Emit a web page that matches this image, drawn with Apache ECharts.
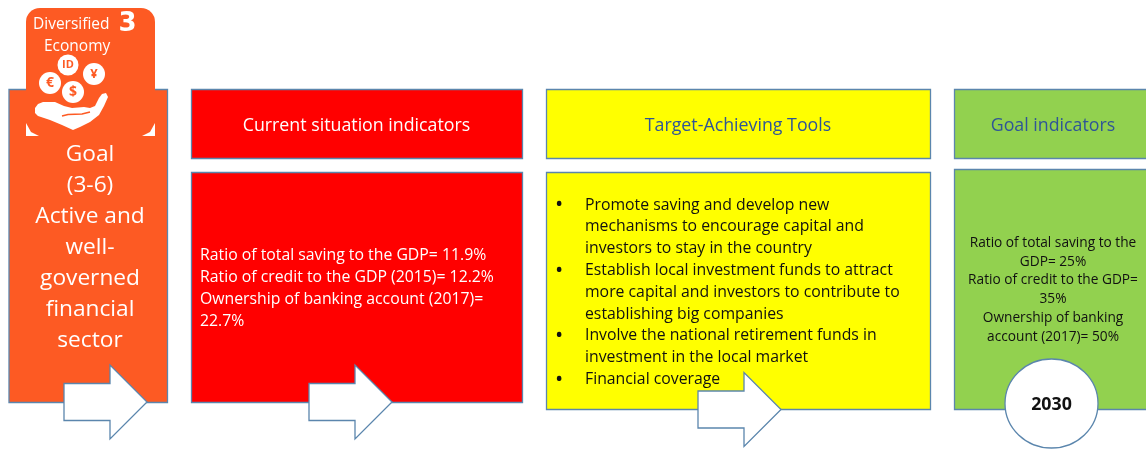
<!DOCTYPE html>
<html><head><meta charset="utf-8">
<style>html,body{margin:0;padding:0;background:#fff}#c{width:1146px;height:449px}</style>
<script src="https://cdn.jsdelivr.net/npm/echarts@6/dist/echarts.min.js"></script>
</head><body><div id="c"></div>
<script>
const badgeTitle = ['Diversified', 'Economy'];
const goalNumber = '3';
const goalLines = ['Goal', '(3-6)', 'Active and', 'well-', 'governed', 'financial', 'sector'];
const headers = ['Current situation indicators', 'Target-Achieving Tools', 'Goal indicators'];
const currentLines = ['Ratio of total saving to the GDP= 11.9%', 'Ratio of credit to the GDP (2015)= 12.2%', 'Ownership of banking account (2017)=', '22.7%'];
const toolLines = ['Promote saving and develop new', 'mechanisms to encourage capital and', 'investors to stay in the country', 'Establish local investment funds to attract', 'more capital and investors to contribute to', 'establishing big companies', 'Involve the national retirement funds in', 'investment in the local market', 'Financial coverage'];
const toolBullets = [0, 3, 6, 8];
const targetLines = ['Ratio of total saving to the', 'GDP= 25%', 'Ratio of credit to the GDP=', '35%', 'Ownership of banking', 'account (2017)= 50%'];
const yearLabel = '2030';

const FONT = '"Open Sans", "Noto Sans", sans-serif';
const EDGE = '#5b86ad';
const ORANGE = '#fd5a23', RED = '#ff0000', YELLOW = '#ffff00', GREEN = '#92d14f';

const box = (x, y, w, h, fill, z) => ({type:'rect', z:z||1, shape:{x:x+.5,y:y+.5,width:w,height:h}, style:{fill, stroke:EDGE, lineWidth:1.3}});
const txt = (x, y, text, size, fill, align, extra) => ({type:'text', z:5, x, y:y+1, style:Object.assign({text, fill, font:size+'px '+FONT, textAlign:align||'left', textVerticalAlign:'middle'}, extra||{})});
const arrow = (x, yMid) => ({type:'polygon', z:4, shape:{points:[[x,yMid-18.5],[x+46,yMid-18.5],[x+46,yMid-37],[x+83,yMid],[x+46,yMid+37],[x+46,yMid+18.5],[x,yMid+18.5]]}, style:{fill:'#fff', stroke:EDGE, lineWidth:1.3}});

const els = [];
// left column
els.push(box(8.5, 89, 158.5, 313, ORANGE));
// white corner ticks + badge
els.push({type:'rect', z:2, shape:{x:26,y:8,width:129,height:128,r:14}, style:{fill:ORANGE}});
els.push({type:'polygon', z:3, shape:{points:[[26,123],[26,136],[39,136],[31,132]]}, style:{fill:'#fff'}});
els.push({type:'polygon', z:3, shape:{points:[[155,123],[155,136],[142,136],[150,132]]}, style:{fill:'#fff'}});
els.push(txt(33, 24, badgeTitle[0], 15.5, '#fff'));
els.push(txt(44, 46, badgeTitle[1], 15.5, '#fff'));
els.push(txt(127.5, 23, goalNumber, 26, '#fff', 'center', {font:'900 26px "DejaVu Sans", sans-serif'}));
// coins
[[68,65,10.5,'ID',11],[94,74,11,'¥',13],[50,83,11,'€',14],[73,92,11,'$',14]].forEach(c=>{
  els.push({type:'circle', z:3, shape:{cx:c[0],cy:c[1],r:c[2]}, style:{fill:'#fff'}});
  els.push(txt(c[0], c[1]-1, c[3], c[4], ORANGE, 'center', {font:'bold '+c[4]+'px '+FONT}));
});
els.push({type:'polygon', z:3, shape:{points:[[35,108],[38,104],[43,102],[55,102],[64,106],[72,108],[84,107],[90,108],[95,106],[99,98],[102,94],[106,93],[108,97],[104,106],[99,115],[90,122],[80,127],[73,130],[62,125],[50,120],[38,116],[35,113]]}, style:{fill:'#fff'}});
els.push({type:'polyline', z:3, shape:{points:[[62,116],[68,114.5],[82,114],[90,112]]}, style:{fill:'none', stroke:ORANGE, lineWidth:1.5}});
goalLines.forEach((t,i)=>els.push(txt(90, 154+i*31, t, 22.7, '#fff', 'center')));
els.push(arrow(64, 402));

// current
els.push(box(191, 89, 331, 69, RED));
els.push(txt(356.5, 124.5, headers[0], 17.8, '#fff', 'center'));
els.push(box(191, 172, 331, 230, RED));
currentLines.forEach((t,i)=>els.push(txt(200, 254+i*22, t, 15.8, '#fff')));
els.push(arrow(309, 402));

// tools
els.push(box(546, 89, 384, 69, YELLOW));
els.push(txt(738, 124.5, headers[1], 17.8, '#2f5597', 'center'));
els.push(box(546, 172, 384, 237, YELLOW));
toolLines.forEach((t,i)=>{
  const y = 204+i*21.8;
  els.push(txt(585, y, t, 15.8, '#111'));
  if (toolBullets.includes(i)) els.push(txt(555, y, '•', 22, '#111'));
});
els.push(arrow(698, 409.5));

// goal
els.push(box(954, 89, 200, 69, GREEN));
els.push(txt(1053, 124.5, headers[2], 17.8, '#2f5597', 'center'));
els.push(box(954, 169, 200, 240, GREEN));
targetLines.forEach((t,i)=>els.push(txt(1053, 242+i*18.8, t, 13.7, '#111', 'center')));
els.push({type:'ellipse', z:4, shape:{cx:1051.5,cy:403.5,rx:46.5,ry:44.5}, style:{fill:'#fff', stroke:EDGE, lineWidth:1.3}});
els.push(txt(1051.5, 404, yearLabel, 17.8, '#111', 'center', {font:'bold 17.8px '+FONT}));

const chart = echarts.init(document.getElementById('c'), null, {renderer:'canvas'});
chart.setOption({animation:false, backgroundColor:'#fff', graphic:{elements:els}});
</script></body></html>
